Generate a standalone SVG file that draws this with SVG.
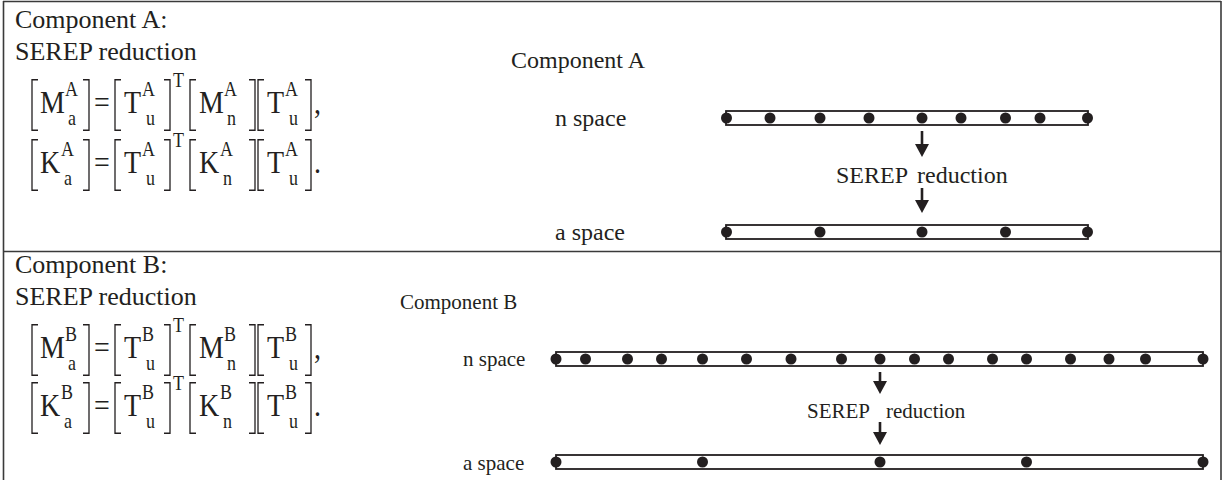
<svg xmlns="http://www.w3.org/2000/svg" width="1225" height="480" viewBox="0 0 1225 480">
<defs>
<style>
text{font-family:"Liberation Serif","Times New Roman",serif;fill:#231f20}
.h{font-size:26px}
.e{font-size:28px}
.s{font-size:18px}
.la{font-size:24px}
.lb{font-size:21px}
.ra{font-size:24px}
.rb{font-size:21px}
.br{fill:none;stroke:#231f20;stroke-width:1.3}
.frame{fill:none;stroke:#3a3a3a;stroke-width:1.6}
.bar{fill:#fff;stroke:#231f20;stroke-width:1.8}
.dot{fill:#231f20}
.arr{stroke:#231f20;stroke-width:2.6;fill:none;marker-end:url(#ah)}
</style>
<marker id="ah" markerUnits="userSpaceOnUse" viewBox="0 0 13 14" markerWidth="13" markerHeight="14" refX="6" refY="7" orient="auto">
<path d="M0,0 L13,7 L0,14 Z" fill="#231f20"/>
</marker>
<g id="bk">
<path class="br" d="M48,-29 H42 V15 H48"/>
<path class="br" d="M93,-29 H99 V15 H93"/>
<path class="br" d="M131,-29 H125 V15 H131"/>
<path class="br" d="M174,-29 H180 V15 H174"/>
<path class="br" d="M206,-29 H200 V15 H206"/>
<path class="br" d="M259,-29 H265 V15 H259"/>
<path class="br" d="M274,-29 H268 V15 H274"/>
<path class="br" d="M315,-29 H321 V15 H315"/>
</g>
</defs>
<g id="frame">
<line class="frame" x1="3" y1="1.5" x2="1221" y2="1.5"/>
<line class="frame" x1="3.5" y1="1" x2="3.5" y2="480"/>
<line class="frame" x1="1221" y1="1" x2="1221" y2="480"/>
<line class="frame" x1="3" y1="251.5" x2="1221" y2="251.5"/>
</g>
<g id="compA-text">
<text class="h" x="15" y="28">Component A:</text>
<text class="h" x="15" y="60">SEREP reduction</text>
</g>
<g id="eqA1" transform="translate(-10,113) scale(1,1.15)">
<use href="#bk"/>
<text class="e" x="50" y="0">M</text><text class="s" x="75" y="-15">A</text><text class="s" x="78" y="10">a</text>
<text class="e" x="104" y="0">=</text>
<text class="e" x="134" y="0">T</text><text class="s" x="152" y="-15">A</text><text class="s" x="156" y="10">u</text>
<text class="s" x="183" y="-23">T</text>
<text class="e" x="209" y="0">M</text><text class="s" x="234" y="-15">A</text><text class="s" x="237" y="10">n</text>
<text class="e" x="277" y="0">T</text><text class="s" x="295" y="-15">A</text><text class="s" x="299" y="10">u</text>
<text class="e" x="324" y="0">,</text>
</g>
<g id="eqA2" transform="translate(-10,173) scale(1,1.15)">
<use href="#bk"/>
<text class="e" x="50" y="0">K</text><text class="s" x="71" y="-15">A</text><text class="s" x="74" y="10">a</text>
<text class="e" x="104" y="0">=</text>
<text class="e" x="134" y="0">T</text><text class="s" x="152" y="-15">A</text><text class="s" x="156" y="10">u</text>
<text class="s" x="183" y="-23">T</text>
<text class="e" x="209" y="0">K</text><text class="s" x="230" y="-15">A</text><text class="s" x="233" y="10">n</text>
<text class="e" x="277" y="0">T</text><text class="s" x="295" y="-15">A</text><text class="s" x="299" y="10">u</text>
<text class="e" x="324" y="0">.</text>
</g>
<g id="compA-diagram">
<text class="la" x="511" y="68">Component A</text>
<text class="la" x="555" y="126">n space</text>
<text class="la" x="555" y="240">a space</text>
<text class="ra" x="836" y="183">SEREP <tspan x="917">reduction</tspan></text>
</g>
<g id="barA-n">
<rect class="bar" x="726" y="111" width="362" height="14"/>
<circle class="dot" cx="726.5" cy="118" r="5.5"/><circle class="dot" cx="770" cy="118" r="5.5"/><circle class="dot" cx="820" cy="118" r="5.5"/><circle class="dot" cx="869" cy="118" r="5.5"/><circle class="dot" cx="922" cy="118" r="5.5"/><circle class="dot" cx="961" cy="118" r="5.5"/><circle class="dot" cx="1005.5" cy="118" r="5.5"/><circle class="dot" cx="1040" cy="118" r="5.5"/><circle class="dot" cx="1087.5" cy="118" r="5.5"/>
</g>
<g id="barA-a">
<rect class="bar" x="726" y="225" width="362" height="14"/>
<circle class="dot" cx="726.5" cy="232" r="5.5"/><circle class="dot" cx="820" cy="232" r="5.5"/><circle class="dot" cx="922" cy="232" r="5.5"/><circle class="dot" cx="1005.5" cy="232" r="5.5"/><circle class="dot" cx="1087.5" cy="232" r="5.5"/>
</g>
<g id="compB-text">
<text class="h" x="15" y="273">Component B:</text>
<text class="h" x="15" y="305">SEREP reduction</text>
</g>
<g id="eqB1" transform="translate(-10,358) scale(1,1.15)">
<use href="#bk"/>
<text class="e" x="50" y="0">M</text><text class="s" x="75" y="-15">B</text><text class="s" x="78" y="10">a</text>
<text class="e" x="104" y="0">=</text>
<text class="e" x="134" y="0">T</text><text class="s" x="152" y="-15">B</text><text class="s" x="156" y="10">u</text>
<text class="s" x="183" y="-23">T</text>
<text class="e" x="209" y="0">M</text><text class="s" x="234" y="-15">B</text><text class="s" x="237" y="10">n</text>
<text class="e" x="277" y="0">T</text><text class="s" x="295" y="-15">B</text><text class="s" x="299" y="10">u</text>
<text class="e" x="324" y="0">,</text>
</g>
<g id="eqB2" transform="translate(-10,416) scale(1,1.15)">
<use href="#bk"/>
<text class="e" x="50" y="0">K</text><text class="s" x="71" y="-15">B</text><text class="s" x="74" y="10">a</text>
<text class="e" x="104" y="0">=</text>
<text class="e" x="134" y="0">T</text><text class="s" x="152" y="-15">B</text><text class="s" x="156" y="10">u</text>
<text class="s" x="183" y="-23">T</text>
<text class="e" x="209" y="0">K</text><text class="s" x="230" y="-15">B</text><text class="s" x="233" y="10">n</text>
<text class="e" x="277" y="0">T</text><text class="s" x="295" y="-15">B</text><text class="s" x="299" y="10">u</text>
<text class="e" x="324" y="0">.</text>
</g>
<g id="compB-diagram">
<text class="lb" x="400" y="309">Component B</text>
<text class="lb" x="463" y="366">n space</text>
<text class="lb" x="463" y="470">a space</text>
<text class="rb" x="807" y="418">SEREP <tspan x="886">reduction</tspan></text>
</g>
<g id="barB-n">
<rect class="bar" x="556" y="352" width="647" height="14"/>
<circle class="dot" cx="556" cy="359" r="5.5"/><circle class="dot" cx="585.5" cy="359" r="5.5"/><circle class="dot" cx="627.5" cy="359" r="5.5"/><circle class="dot" cx="661.5" cy="359" r="5.5"/><circle class="dot" cx="702.5" cy="359" r="5.5"/><circle class="dot" cx="746.5" cy="359" r="5.5"/><circle class="dot" cx="791" cy="359" r="5.5"/><circle class="dot" cx="841.5" cy="359" r="5.5"/><circle class="dot" cx="880" cy="359" r="5.5"/><circle class="dot" cx="914.5" cy="359" r="5.5"/><circle class="dot" cx="948.5" cy="359" r="5.5"/><circle class="dot" cx="992.5" cy="359" r="5.5"/><circle class="dot" cx="1026.5" cy="359" r="5.5"/><circle class="dot" cx="1070.5" cy="359" r="5.5"/><circle class="dot" cx="1109" cy="359" r="5.5"/><circle class="dot" cx="1145.5" cy="359" r="5.5"/><circle class="dot" cx="1203" cy="359" r="5.5"/>
</g>
<g id="barB-a">
<rect class="bar" x="556" y="455" width="647" height="14"/>
<circle class="dot" cx="556" cy="462" r="5.5"/><circle class="dot" cx="702.5" cy="462" r="5.5"/><circle class="dot" cx="880" cy="462" r="5.5"/><circle class="dot" cx="1026.5" cy="462" r="5.5"/><circle class="dot" cx="1203" cy="462" r="5.5"/>
</g>
<g id="connectors">
<line class="arr" x1="922" y1="131" x2="922" y2="150"/>
<line class="arr" x1="922" y1="188" x2="922" y2="206"/>
<line class="arr" x1="880" y1="372" x2="880" y2="387"/>
<line class="arr" x1="880" y1="422" x2="880" y2="438"/>
</g>
</svg>
